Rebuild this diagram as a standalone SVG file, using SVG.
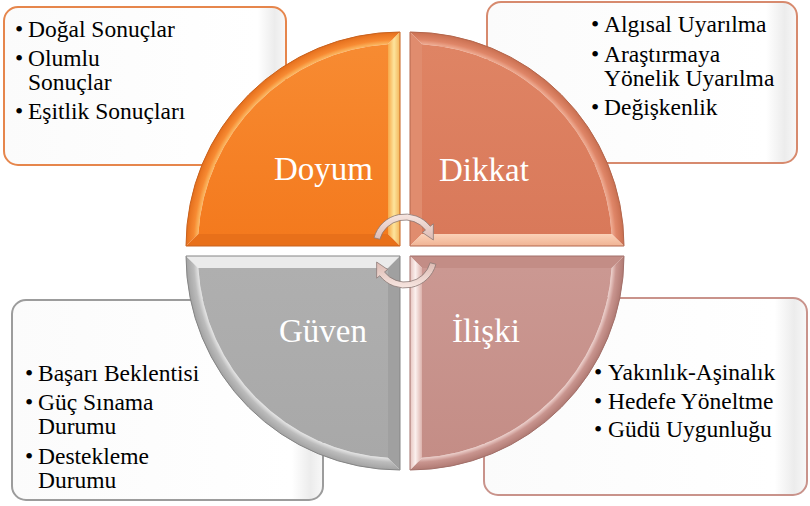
<svg xmlns="http://www.w3.org/2000/svg" width="810" height="506" viewBox="0 0 810 506">
  <style>
    .item { font-family: "Liberation Serif", "Times New Roman", serif; font-size: 23.5px; fill: #000; }
    .label { font-family: "Liberation Serif", "Times New Roman", serif; font-size: 33px; fill: #fff; }
    .box { stroke-width: 2; }
    .edge { fill: none; stroke-width: 1; }
    .arrow { fill: url(#gArrow); stroke: #8c7a76; stroke-width: 0.8; stroke-linejoin: round; }
  </style>
  <defs>
    <linearGradient id="gBox" x1="0" y1="0" x2="1" y2="0">
      <stop offset="0" stop-color="#fbfbfb"/>
      <stop offset="0.9" stop-color="#ffffff"/>
      <stop offset="0.96" stop-color="#ececec"/>
      <stop offset="1" stop-color="#f8f8f8"/>
    </linearGradient>
    <!-- quadrant bodies -->
    <linearGradient id="gDoyum" x1="0" y1="0" x2="0" y2="1">
      <stop offset="0" stop-color="#f78b32"/>
      <stop offset="1" stop-color="#f47a1e"/>
    </linearGradient>
    <linearGradient id="gDikkat" x1="0" y1="0" x2="0" y2="1">
      <stop offset="0" stop-color="#df8464"/>
      <stop offset="1" stop-color="#d9795a"/>
    </linearGradient>
    <linearGradient id="gGuven" x1="0" y1="0" x2="0" y2="1">
      <stop offset="0" stop-color="#afafaf"/>
      <stop offset="1" stop-color="#a8a8a8"/>
    </linearGradient>
    <linearGradient id="gIliski" x1="0" y1="0" x2="0" y2="1">
      <stop offset="0" stop-color="#cb9892"/>
      <stop offset="1" stop-color="#c48d86"/>
    </linearGradient>
    <!-- bevel bands: arcs lit along their inner ridge -->
    <radialGradient id="gDoyumArc" gradientUnits="userSpaceOnUse" cx="400" cy="246" r="214">
      <stop offset="0.94" stop-color="#fcc46e"/>
      <stop offset="0.965" stop-color="#f78a32"/>
      <stop offset="1" stop-color="#e46e1c"/>
    </radialGradient>
    <linearGradient id="gDoyumSide" gradientUnits="userSpaceOnUse" x1="388" y1="0" x2="400" y2="0">
      <stop offset="0" stop-color="#f7a848"/>
      <stop offset="0.5" stop-color="#fde49c"/>
      <stop offset="1" stop-color="#f3b458"/>
    </linearGradient>
    <radialGradient id="gDikkatArc" gradientUnits="userSpaceOnUse" cx="410" cy="246" r="214">
      <stop offset="0.94" stop-color="#f2b49c"/>
      <stop offset="0.965" stop-color="#df8668"/>
      <stop offset="1" stop-color="#c96f50"/>
    </radialGradient>
    <linearGradient id="gDikkatBottom" x1="0" y1="0" x2="0" y2="1">
      <stop offset="0" stop-color="#fbd2b8"/>
      <stop offset="1" stop-color="#f0b394"/>
    </linearGradient>
    <radialGradient id="gGuvenArc" gradientUnits="userSpaceOnUse" cx="400" cy="256" r="214">
      <stop offset="0.94" stop-color="#ececec"/>
      <stop offset="0.965" stop-color="#bcbcbc"/>
      <stop offset="1" stop-color="#a2a2a2"/>
    </radialGradient>
    <radialGradient id="gIliskiArc" gradientUnits="userSpaceOnUse" cx="410" cy="256" r="214">
      <stop offset="0.94" stop-color="#f3dad6"/>
      <stop offset="0.965" stop-color="#c9958f"/>
      <stop offset="1" stop-color="#b07a73"/>
    </radialGradient>
    <linearGradient id="gIliskiSide" gradientUnits="userSpaceOnUse" x1="410" y1="0" x2="422" y2="0">
      <stop offset="0" stop-color="#e6c3be"/>
      <stop offset="0.45" stop-color="#fbf0ee"/>
      <stop offset="1" stop-color="#dcb2ac"/>
    </linearGradient>
    <linearGradient id="gArrow" x1="0" y1="0" x2="0" y2="1">
      <stop offset="0" stop-color="#f7e6e1"/>
      <stop offset="1" stop-color="#dcbab2"/>
    </linearGradient>
  </defs>

  <!-- text boxes behind the circle -->
  <g id="box-doyum">
    <rect class="box" x="4" y="7" width="282" height="158" rx="14" fill="url(#gBox)" stroke="#e6864c"/>
    <text class="item" x="15" y="37">•</text><text class="item" x="28" y="37">Doğal Sonuçlar</text>
    <text class="item" x="15" y="66">•</text><text class="item" x="28" y="66">Olumlu</text>
    <text class="item" x="28" y="90">Sonuçlar</text>
    <text class="item" x="15" y="119">•</text><text class="item" x="28" y="119">Eşitlik Sonuçları</text>
  </g>
  <g id="box-dikkat">
    <rect class="box" x="487" y="2" width="310" height="161" rx="14" fill="url(#gBox)" stroke="#d78a6e"/>
    <text class="item" x="591" y="32">•</text><text class="item" x="604" y="32">Algısal Uyarılma</text>
    <text class="item" x="591" y="62">•</text><text class="item" x="604" y="62">Araştırmaya</text>
    <text class="item" x="604" y="86">Yönelik Uyarılma</text>
    <text class="item" x="591" y="115">•</text><text class="item" x="604" y="115">Değişkenlik</text>
  </g>
  <g id="box-guven">
    <rect class="box" x="12" y="300" width="311" height="200" rx="14" fill="url(#gBox)" stroke="#9c9c9c"/>
    <text class="item" x="25" y="381">•</text><text class="item" x="38" y="381">Başarı Beklentisi</text>
    <text class="item" x="25" y="410">•</text><text class="item" x="38" y="410">Güç Sınama</text>
    <text class="item" x="38" y="434">Durumu</text>
    <text class="item" x="25" y="464">•</text><text class="item" x="38" y="464">Destekleme</text>
    <text class="item" x="38" y="488">Durumu</text>
  </g>
  <g id="box-iliski">
    <rect class="box" x="484" y="298" width="323" height="197" rx="14" fill="url(#gBox)" stroke="#c9938b"/>
    <text class="item" x="594" y="380">•</text><text class="item" x="608" y="380">Yakınlık-Aşinalık</text>
    <text class="item" x="594" y="409">•</text><text class="item" x="608" y="409">Hedefe Yöneltme</text>
    <text class="item" x="594" y="437">•</text><text class="item" x="608" y="437">Güdü Uygunluğu</text>
  </g>

  <!-- quadrant: Doyum (upper left) -->
  <g id="doyum">
    <path d="M400,32 A214,214 0 0 0 186,246 L198.36,234 A202,202 0 0 1 388,44.36 Z" fill="url(#gDoyumArc)"/>
    <path d="M400,32 L400,246 L388,234 L388,44.36 Z" fill="url(#gDoyumSide)"/>
    <path d="M400,246 L186,246 L198.36,234 L388,234 Z" fill="#e8701a"/>
    <path d="M388,234 L388,44.36 A202,202 0 0 0 198.36,234 Z" fill="url(#gDoyum)"/>
    <path class="edge" d="M400,246 L400,32 A214,214 0 0 0 186,246 Z" stroke="#c8621e"/>
    <text class="label" x="274" y="180">Doyum</text>
  </g>

  <!-- quadrant: Dikkat (upper right) -->
  <g id="dikkat">
    <path d="M410,32 A214,214 0 0 1 624,246 L611.64,234 A202,202 0 0 0 422,44.36 Z" fill="url(#gDikkatArc)"/>
    <path d="M410,32 L410,246 L422,234 L422,44.36 Z" fill="#e08c6e"/>
    <path d="M410,246 L624,246 L611.64,234 L422,234 Z" fill="url(#gDikkatBottom)"/>
    <path d="M422,234 L422,44.36 A202,202 0 0 1 611.64,234 Z" fill="url(#gDikkat)"/>
    <path class="edge" d="M410,246 L410,32 A214,214 0 0 1 624,246 Z" stroke="#b3664c"/>
    <text class="label" x="439" y="181">Dikkat</text>
  </g>

  <!-- quadrant: Güven (lower left) -->
  <g id="guven">
    <path d="M186,256 A214,214 0 0 0 400,470 L388,457.64 A202,202 0 0 1 198.36,268 Z" fill="url(#gGuvenArc)"/>
    <path d="M186,256 L400,256 L388,268 L198.36,268 Z" fill="#ebebeb"/>
    <path d="M400,256 L400,470 L388,457.64 L388,268 Z" fill="#a0a0a0"/>
    <path d="M388,268 L198.36,268 A202,202 0 0 0 388,457.64 Z" fill="url(#gGuven)"/>
    <path class="edge" d="M400,256 L186,256 A214,214 0 0 0 400,470 Z" stroke="#858585"/>
    <text class="label" x="279" y="342">Güven</text>
  </g>

  <!-- quadrant: İlişki (lower right) -->
  <g id="iliski">
    <path d="M624,256 A214,214 0 0 1 410,470 L422,457.64 A202,202 0 0 0 611.64,268 Z" fill="url(#gIliskiArc)"/>
    <path d="M410,256 L624,256 L611.64,268 L422,268 Z" fill="#c38d86"/>
    <path d="M410,256 L410,470 L422,457.64 L422,268 Z" fill="url(#gIliskiSide)"/>
    <path d="M422,268 L611.64,268 A202,202 0 0 1 422,457.64 Z" fill="url(#gIliski)"/>
    <path class="edge" d="M410,256 L624,256 A214,214 0 0 1 410,470 Z" stroke="#a2706a"/>
    <text class="label" x="452" y="342">İlişki</text>
  </g>

  <!-- cycle arrows -->
  <g id="connectors">
    <path class="arrow" d="M374.09,237.72 A32,32 0 0 1 430.22,226.30 L433.37,223.83 L433.37,239.97 L422.34,232.45 L425.49,229.99 A26,26 0 0 0 379.89,239.27 Z"/>
    <path class="arrow" transform="rotate(180 405 251)" d="M374.09,237.72 A32,32 0 0 1 430.22,226.30 L433.37,223.83 L433.37,239.97 L422.34,232.45 L425.49,229.99 A26,26 0 0 0 379.89,239.27 Z"/>
  </g>
</svg>
